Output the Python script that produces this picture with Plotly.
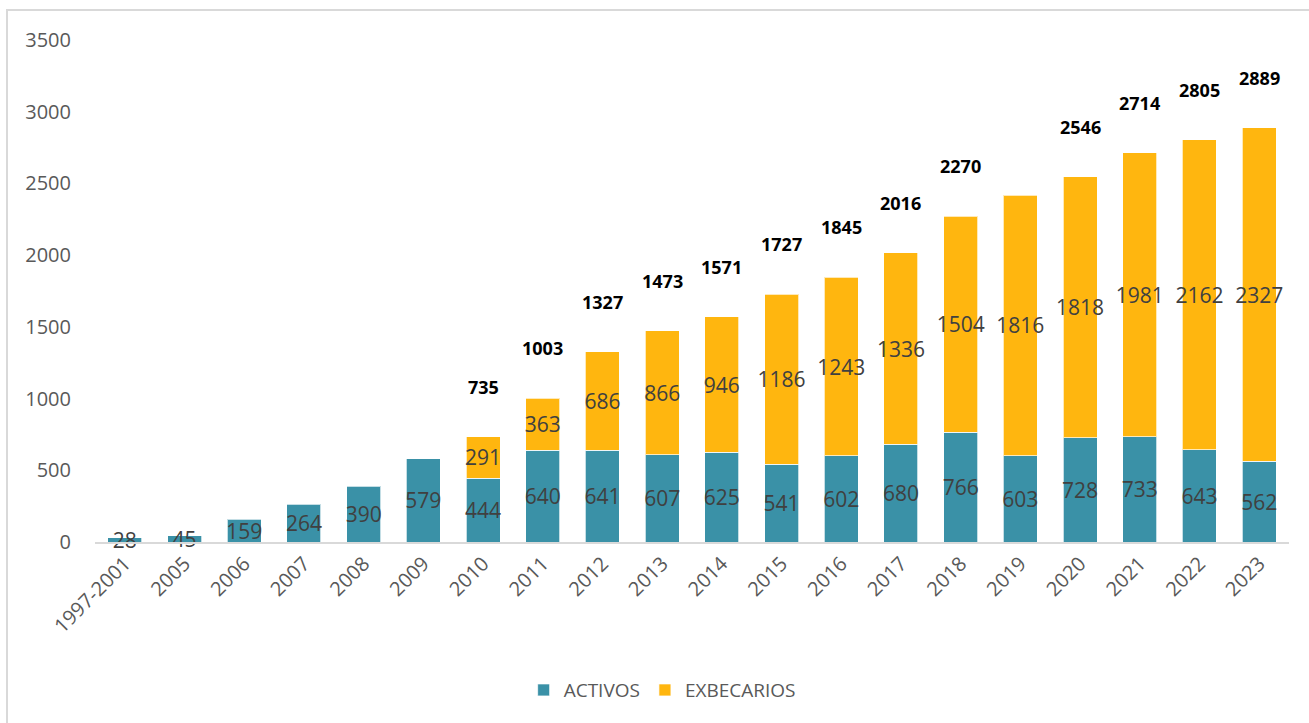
import plotly.graph_objects as go

# Categories and series values
categories = ["1997-2001", "2005", "2006", "2007", "2008", "2009", "2010", "2011", "2012", "2013",
              "2014", "2015", "2016", "2017", "2018", "2019", "2020", "2021", "2022", "2023"]
activos = [28, 45, 159, 264, 390, 579, 444, 640, 641, 607,
           625, 541, 602, 680, 766, 603, 728, 733, 643, 562]
exbecarios = [None, None, None, None, None, None, 291, 363, 686, 866,
              946, 1186, 1243, 1336, 1504, 1816, 1818, 1981, 2162, 2327]
# totals printed above the bars (2019 has no label in the original)
totales = [None, None, None, None, None, None, 735, 1003, 1327, 1473,
           1571, 1727, 1845, 2016, 2270, None, 2546, 2714, 2805, 2889]

teal = "#3A91A7"
yellow = "#FFB60F"
FONT = "'Open Sans', 'Noto Sans', sans-serif"
label_font = dict(family=FONT, size=21, color="#404040")

fig = go.Figure()
fig.add_trace(go.Bar(
    x=categories, y=activos, name="ACTIVOS",
    marker=dict(color=teal, line=dict(color="rgba(255,255,255,0.7)", width=1)),
    texttemplate="%{y}", textposition="inside",
    insidetextanchor="middle", constraintext="none", textangle=0,
    insidetextfont=label_font, cliponaxis=False,
))
fig.add_trace(go.Bar(
    x=categories, y=exbecarios, name="EXBECARIOS",
    marker=dict(color=yellow, line=dict(color="rgba(255,255,255,0.7)", width=1)),
    texttemplate="%{y}", textposition="inside",
    insidetextanchor="middle", constraintext="none", textangle=0,
    insidetextfont=label_font, cliponaxis=False,
))

# Bold totals above the stacks (x given as category index)
annotations = []
for i, tot in enumerate(totales):
    if tot is None:
        continue
    annotations.append(dict(
        x=i, y=tot, xref="x", yref="y", text="<b>%d</b>" % tot,
        showarrow=False, yshift=50,
        font=dict(family=FONT, size=18, color="#000000"),
    ))

fig.update_layout(
    barmode="stack",
    bargap=0.43,
    width=1309, height=723,
    margin=dict(l=95, r=20, t=40, b=181, autoexpand=False),
    paper_bgcolor="white", plot_bgcolor="white",
    font=dict(family=FONT, size=20, color="#595959"),
    annotations=annotations,
    legend=dict(
        orientation="h", x=0.475, xanchor="center", y=-0.295, yanchor="middle",
        font=dict(size=19, color="#595959"), traceorder="normal",
    ),
    shapes=[dict(
        type="rect", xref="paper", yref="paper",
        x0=-0.0737, x1=1.03, y0=-0.38, y1=1.0598,
        line=dict(color="#d9d9d9", width=2), fillcolor="rgba(0,0,0,0)", layer="below",
    )],
)
fig.update_xaxes(
    type="category", range=[-0.5, len(categories) - 0.5], tickangle=-45,
    showline=True, linecolor="#d9d9d9", linewidth=2,
    ticks="", showgrid=False, tickfont=dict(size=20, color="#595959"),
)
fig.update_yaxes(
    range=[0, 3500], dtick=500, showgrid=False, zeroline=False, showline=False,
    ticks="", tickfont=dict(size=20, color="#595959"), ticklabelstandoff=23,
)

# the page body has a default 8px margin; remove it so the figure sits at the corner
fig.write_html("out.html", config={"displayModeBar": False},
               post_script="document.body.style.margin='0';")
